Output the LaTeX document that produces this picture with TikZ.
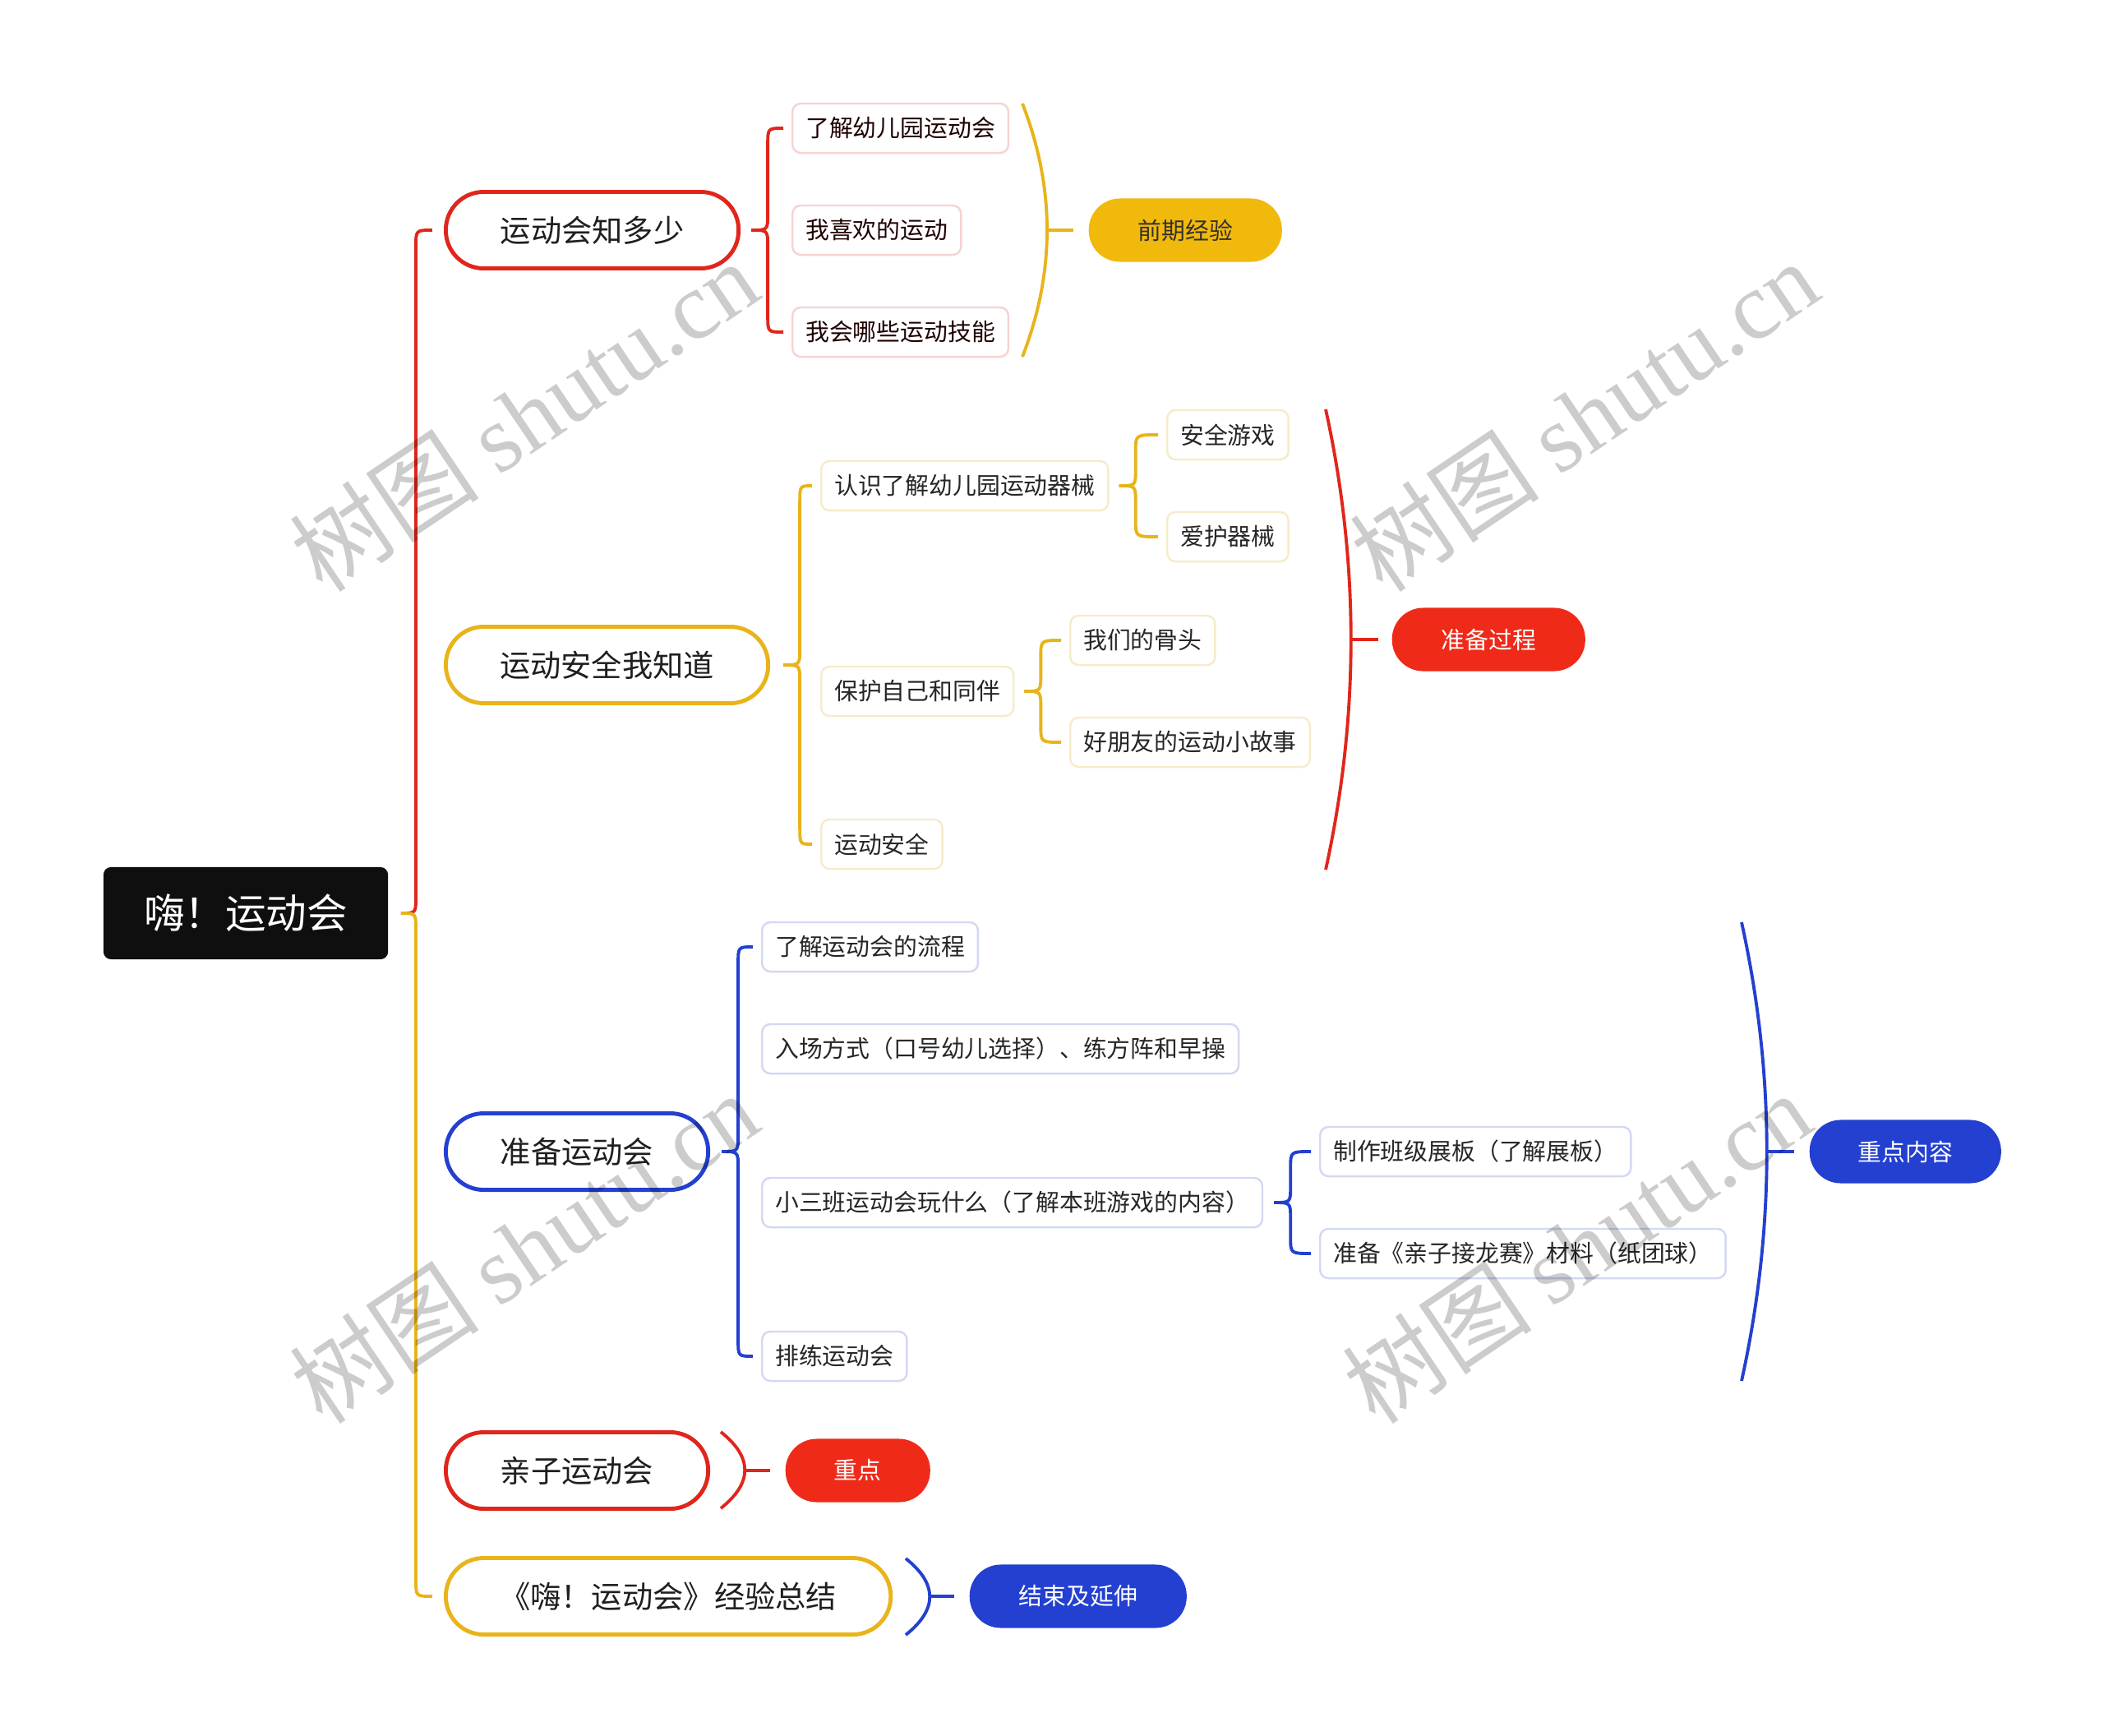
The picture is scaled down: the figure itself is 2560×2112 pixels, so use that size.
\documentclass[tikz,border=0pt]{standalone}
\usepackage{fontspec}
\setmainfont{Noto Sans CJK SC}
\newfontfamily\wmserif{Liberation Serif}
\usetikzlibrary{calc}
\definecolor{cred}{HTML}{E0261C}
\definecolor{cyel}{HTML}{E8B41A}
\definecolor{cblue}{HTML}{2340D0}
\definecolor{fyel}{HTML}{F0B90C}
\definecolor{fred}{HTML}{EF2A19}
\definecolor{lpink}{HTML}{F6D3D3}
\definecolor{lyel}{HTML}{F7EBC9}
\definecolor{lblue}{HTML}{D3D8F3}
\tikzset{
  rootnode/.style={fill=black!94, rounded corners=0.09cm, minimum width=3.46cm, minimum height=1.12cm, text=white, font=\fontsize{14.1pt}{16pt}\selectfont, inner sep=0pt},
  topic/.style={draw=#1, line width=1.4pt, fill=white, rounded corners=0.46cm, minimum height=0.93cm, inner sep=0pt, font=\fontsize{10.6pt}{12pt}\selectfont, anchor=west, text=black!88},
  leaf/.style={draw=#1, line width=0.7pt, fill=white, rounded corners=0.1cm, minimum height=0.6cm, inner xsep=0.16cm, inner ysep=0pt, font=\fontsize{8.2pt}{10pt}\selectfont, anchor=west, text=black!85},
  summ/.style={fill=#1, rounded corners=0.38cm, minimum height=0.77cm, inner sep=0pt, font=\fontsize{8.2pt}{10pt}\selectfont, anchor=west},
  conn/.style={draw=#1, line width=1.1pt},
  wmark/.style={rotate=34, text=black, text opacity=0.2, font=\fontsize{33pt}{36pt}\selectfont, inner sep=0pt}
}
% brace from tip coordinate #2 (vertical line x at #3) to child node #4
\newcommand\bracearm[4]{%
  \draw[conn=#1] (#2) .. controls (#3) .. ($(#3)!0.2cm!(#3 |- #4.west)$) -- ($(#3 |- #4.west)!0.2cm!(#3)$) .. controls (#3 |- #4.west) .. ([xshift=-0.1cm]#4.west);}
\begin{document}
\begin{tikzpicture}[x=0.01cm, y=-0.01cm]
\useasboundingbox (0,0) rectangle (2560,2112);

% root
\node[rootnode] (root) at (299,1111) {嗨！运动会};

% level 1
\node[topic=cred, minimum width=3.56cm] (t1) at (540,280) {运动会知多少};
\node[topic=cyel, minimum width=3.92cm] (t2) at (540,809) {运动安全我知道};
\node[topic=cblue, minimum width=3.19cm] (t3) at (540,1401) {准备运动会};
\node[topic=cred, minimum width=3.19cm] (t4) at (540,1789) {亲子运动会};
\node[topic=cyel, minimum width=5.41cm] (t5) at (540,1942) {《嗨！运动会》经验总结};

% trunk
\coordinate (trunk) at (506,1111);
\draw[conn=cred] ([xshift=0.15cm]root.east) .. controls (trunk) .. ([yshift=0.2cm]trunk) -- ([yshift=-0.2cm]trunk |- t1.west) .. controls (trunk |- t1.west) .. ([xshift=-0.14cm]t1.west);
\draw[conn=cyel] ([xshift=0.15cm]root.east) .. controls (trunk) .. ([yshift=-0.2cm]trunk) -- ([yshift=0.2cm]trunk |- t5.west) .. controls (trunk |- t5.west) .. ([xshift=-0.14cm]t5.west);

% branch 1
\node[leaf=lpink, text=black!80!red!60!black] (l11) at (963,156) {了解幼儿园运动会};
\node[leaf=lpink, text=black!80!red!60!black] (l12) at (963,280) {我喜欢的运动};
\node[leaf=lpink, text=black!80!red!60!black] (l13) at (963,404) {我会哪些运动技能};
\coordinate (b1tip) at ([xshift=0.13cm]t1.east);
\coordinate (b1v) at ([xshift=0.33cm]t1.east);
\bracearm{cred}{b1tip}{b1v}{l11}
\bracearm{cred}{b1tip}{b1v}{l13}
\draw[conn=cyel] (1244,126) .. controls (1284,229) and (1284,331) .. (1244,434);
\coordinate (a1) at (1274,280);
\node[summ=fyel, minimum width=2.35cm, text=black!80!yellow!40!black] (s1) at (1324,280) {前期经验};
\draw[conn=cyel] (a1) -- ([xshift=-0.18cm]s1.west);

% branch 2
\node[leaf=lyel] (l21) at (998,591) {认识了解幼儿园运动器械};
\node[leaf=lyel] (l22) at (998,841) {保护自己和同伴};
\node[leaf=lyel] (l23) at (998,1027) {运动安全};
\coordinate (b2tip) at ([xshift=0.16cm]t2.east);
\coordinate (b2v) at ([xshift=0.36cm]t2.east);
\bracearm{cyel}{b2tip}{b2v}{l21}
\bracearm{cyel}{b2tip}{b2v}{l23}

\node[leaf=lyel] (l211) at (1419,529) {安全游戏};
\node[leaf=lyel] (l212) at (1419,653) {爱护器械};
\coordinate (b21tip) at ([xshift=0.12cm]l21.east);
\coordinate (b21v) at ([xshift=0.32cm]l21.east);
\bracearm{cyel}{b21tip}{b21v}{l211}
\bracearm{cyel}{b21tip}{b21v}{l212}

\node[leaf=lyel] (l221) at (1301,779) {我们的骨头};
\node[leaf=lyel] (l222) at (1301,903) {好朋友的运动小故事};
\coordinate (b22tip) at ([xshift=0.12cm]l22.east);
\coordinate (b22v) at ([xshift=0.32cm]l22.east);
\bracearm{cyel}{b22tip}{b22v}{l221}
\bracearm{cyel}{b22tip}{b22v}{l222}

\draw[conn=cred] (1613,498) .. controls (1654,685) and (1654,871) .. (1613,1058);
\coordinate (a2) at (1644,778);
\node[summ=fred, minimum width=2.35cm, text=white] (s2) at (1693,778) {准备过程};
\draw[conn=cred] (a2) -- ([xshift=-0.16cm]s2.west);

% branch 3
\node[leaf=lblue] (l31) at (926,1152) {了解运动会的流程};
\node[leaf=lblue] (l32) at (926,1276) {入场方式（口号幼儿选择）、练方阵和早操};
\node[leaf=lblue] (l33) at (926,1463) {小三班运动会玩什么（了解本班游戏的内容）};
\node[leaf=lblue] (l34) at (926,1650) {排练运动会};
\coordinate (b3tip) at ([xshift=0.14cm]t3.east);
\coordinate (b3v) at ([xshift=0.34cm]t3.east);
\bracearm{cblue}{b3tip}{b3v}{l31}
\bracearm{cblue}{b3tip}{b3v}{l34}

\node[leaf=lblue] (l331) at (1605,1401) {制作班级展板（了解展板）};
\node[leaf=lblue] (l332) at (1605,1525) {准备《亲子接龙赛》材料（纸团球）};
\coordinate (b33tip) at ([xshift=0.13cm]l33.east);
\coordinate (b33v) at ([xshift=0.33cm]l33.east);
\bracearm{cblue}{b33tip}{b33v}{l331}
\bracearm{cblue}{b33tip}{b33v}{l332}

\draw[conn=cblue] (2119,1122) .. controls (2160,1308) and (2160,1494) .. (2119,1680);
\coordinate (a3) at (2150,1401);
\node[summ=cblue, minimum width=2.33cm, text=white] (s3) at (2201,1401) {重点内容};
\draw[conn=cblue] (a3) -- ([xshift=-0.18cm]s3.west);

% branch 4
\draw[conn=cred] (877,1742) .. controls (916,1773) and (916,1804) .. (877,1835);
\coordinate (a4) at (906,1789);
\node[summ=fred, minimum width=1.76cm, text=white] (s4) at (955,1789) {重点};
\draw[conn=cred] (a4) -- ([xshift=-0.18cm]s4.west);

% branch 5
\draw[conn=cblue] (1102,1896) .. controls (1141,1927) and (1141,1958) .. (1102,1989);
\coordinate (a5) at (1131,1942);
\node[summ=cblue, minimum width=2.64cm, text=white] (s5) at (1179,1942) {结束及延伸};
\draw[conn=cblue] (a5) -- ([xshift=-0.18cm]s5.west);

% watermarks
\node[wmark] (wm1) at (637,506) {树图 {\wmserif shutu.cn}};
\node[wmark] (wm2) at (1927,506) {树图 {\wmserif shutu.cn}};
\node[wmark] (wm3) at (637,1518) {树图 {\wmserif shutu.cn}};
\node[wmark] (wm4) at (1918,1518) {树图 {\wmserif shutu.cn}};
\end{tikzpicture}
\end{document}
